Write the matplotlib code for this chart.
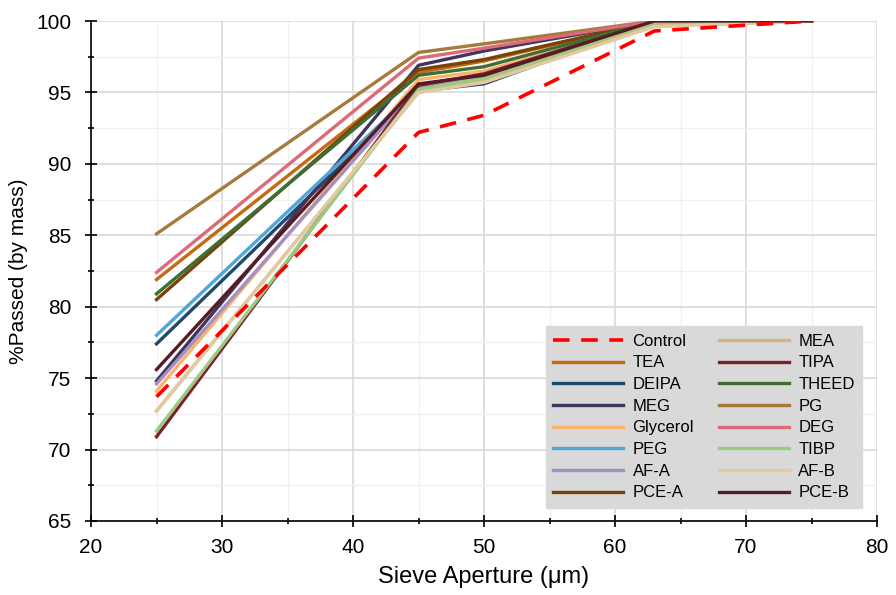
import matplotlib.pyplot as plt
from matplotlib.ticker import MultipleLocator

plt.rcParams['font.family'] = ['Liberation Sans', 'DejaVu Sans']

# sieve apertures (um)
sieve = [25, 45, 50, 63, 75]

# % passed by mass for each admixture
control = [73.7, 92.2, 93.4, 99.3, 100]
tea = [81.9, 96.4, 97.2, 100, 100]
deipa = [77.4, 95.1, 95.6, 99.9, 100]
meg = [74.8, 96.9, 97.9, 100, 100]
glycerol = [74.1, 95.9, 96.5, 99.9, 100]
peg = [78.0, 95.3, 95.9, 99.9, 100]
af_a = [74.6, 95.4, 96.0, 99.8, 100]
pce_a = [80.5, 96.6, 97.3, 100, 100]
mea = [72.7, 95.0, 95.8, 99.7, 100]
tipa = [70.9, 95.5, 96.3, 100, 100]
theed = [80.9, 96.2, 96.8, 100, 100]
pg = [85.1, 97.8, 98.4, 100, 100]
deg = [82.4, 97.4, 98.1, 100, 100]
tibp = [71.3, 95.2, 96.0, 99.9, 100]
af_b = [72.7, 95.0, 95.7, 99.6, 100]
pce_b = [75.6, 95.6, 96.2, 100, 100]

series = [
    ("Control", control, "#ff0000"),
    ("TEA", tea, "#c46a12"),
    ("DEIPA", deipa, "#1f4a68"),
    ("MEG", meg, "#43345c"),
    ("Glycerol", glycerol, "#fbb36c"),
    ("PEG", peg, "#4fa6d8"),
    ("AF-A", af_a, "#a48fc2"),
    ("PCE-A", pce_a, "#7a4209"),
    ("MEA", mea, "#d3b47e"),
    ("TIPA", tipa, "#7d1f2b"),
    ("THEED", theed, "#3f6e34"),
    ("PG", pg, "#a57a3c"),
    ("DEG", deg, "#dc6b78"),
    ("TIBP", tibp, "#9bcb83"),
    ("AF-B", af_b, "#e2c9a0"),
    ("PCE-B", pce_b, "#571b25"),
]

fig = plt.figure(figsize=(8.96, 5.95), dpi=100)
ax = fig.add_axes([0.1016, 0.1244, 0.8772, 0.8403])

for name, vals, col in series:
    if name == "Control":
        ax.plot(sieve, vals, color=col, lw=2.6, ls=(0, (4.6, 3.2)), label=name, zorder=5)
    else:
        ax.plot(sieve, vals, color=col, lw=2.4, label=name)

ax.set_xlim(20, 80)
ax.set_ylim(65, 100)
ax.xaxis.set_major_locator(MultipleLocator(10))
ax.xaxis.set_minor_locator(MultipleLocator(5))
ax.yaxis.set_major_locator(MultipleLocator(5))
ax.yaxis.set_minor_locator(MultipleLocator(2.5))
ax.grid(True, which='major', color='#d9d9d9', lw=1.2)
ax.grid(True, which='minor', color='#f0f0f0', lw=1.0)
ax.set_axisbelow(True)

for side in ['top', 'right']:
    ax.spines[side].set_visible(False)
for side in ['left', 'bottom']:
    ax.spines[side].set_linewidth(1.2)
ax.tick_params(which='both', direction='inout', width=1.2, labelsize=15)
ax.tick_params(which='major', length=8)
ax.tick_params(which='minor', length=5)
ax.tick_params(axis='x', which='major', pad=8)
ax.tick_params(axis='y', which='major', pad=10)

ax.set_xlabel("Sieve Aperture (μm)", fontsize=17, labelpad=7)
ax.set_ylabel("%Passed (by mass)", fontsize=15, labelpad=6)

leg = ax.legend(ncol=2, loc='lower right', bbox_to_anchor=(0.981, 0.026), borderaxespad=0,
                fontsize=12, handlelength=4.2, handletextpad=0.55, columnspacing=1.5,
                labelspacing=0.4, frameon=True, fancybox=False, borderpad=0.45)
leg.get_frame().set_facecolor('#d9d9d9')
leg.get_frame().set_edgecolor('#d9d9d9')
leg.get_frame().set_alpha(1)

fig.savefig("out.png", dpi=100)
